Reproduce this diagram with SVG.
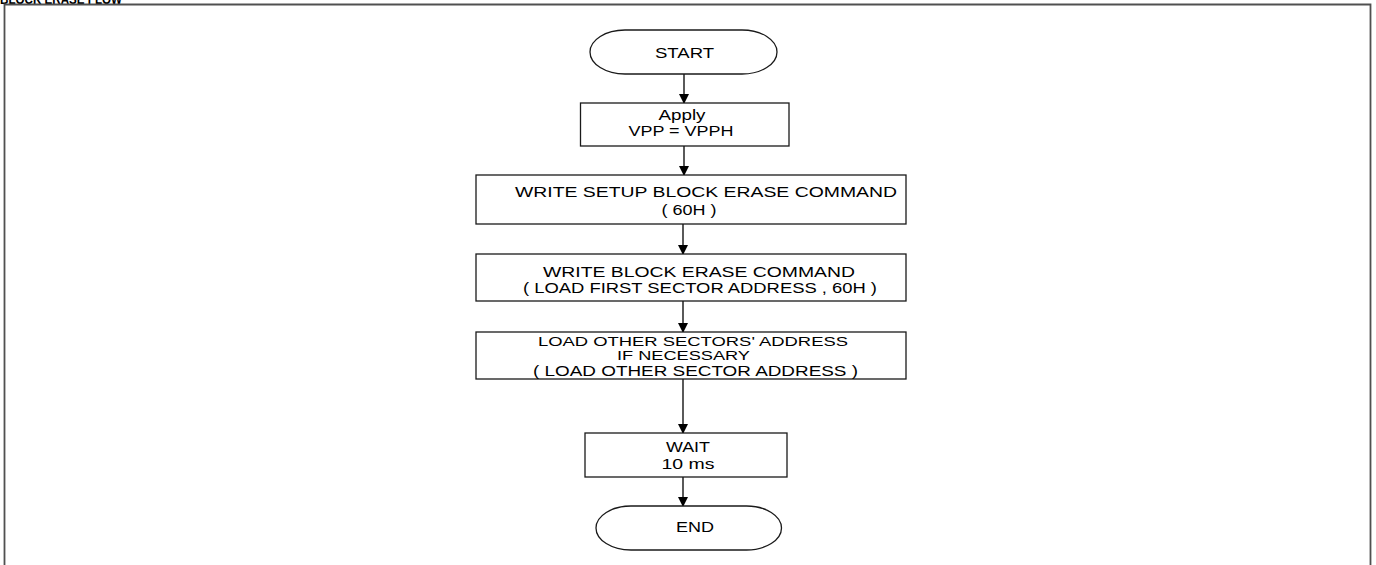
<svg xmlns="http://www.w3.org/2000/svg" width="1376" height="565" viewBox="0 0 1376 565">
  <style>
    .shape { fill: #ffffff; stroke: #1a1a1a; stroke-width: 1.3; }
    .lbl { font-family: "Liberation Sans", Arial, sans-serif; font-size: 14px; fill: #000; text-anchor: middle; }
    .sm { font-size: 13px; }
    .title { font-family: "Liberation Sans", Arial, sans-serif; font-size: 15px; font-weight: bold; fill: #000; }
    .conn { stroke: #000; stroke-width: 1.3; fill: none; }
    .frame { stroke: #505050; stroke-width: 1.8; fill: none; }
  </style>
  <defs>
    <marker id="arrow" markerUnits="userSpaceOnUse" markerWidth="10" markerHeight="12" refX="9" refY="5" orient="auto">
      <path d="M0,0 L10,5 L0,10 Z" fill="#000"/>
    </marker>
  </defs>
  <rect x="0" y="0" width="1376" height="565" fill="#ffffff"/>
  <text class="title" x="0" y="3.5" textLength="122" lengthAdjust="spacingAndGlyphs">BLOCK ERASE FLOW</text>
  <path class="frame" d="M4.5,570 V4.5 H1370.5 V570"/>

  <g id="connectors">
    <line class="conn" x1="684" y1="74" x2="684" y2="103" marker-end="url(#arrow)"/>
    <line class="conn" x1="684" y1="146" x2="684" y2="175" marker-end="url(#arrow)"/>
    <line class="conn" x1="683" y1="224" x2="683" y2="254" marker-end="url(#arrow)"/>
    <line class="conn" x1="683" y1="301" x2="683" y2="332" marker-end="url(#arrow)"/>
    <line class="conn" x1="683" y1="379" x2="683" y2="433" marker-end="url(#arrow)"/>
    <line class="conn" x1="683" y1="477" x2="683" y2="506" marker-end="url(#arrow)"/>
  </g>

  <g id="start">
    <rect class="shape" x="590" y="30" width="187" height="44" rx="35" ry="22"/>
    <text class="lbl" x="684.5" y="58" textLength="59" lengthAdjust="spacingAndGlyphs">START</text>
  </g>
  <g id="apply">
    <rect class="shape" x="580.5" y="103" width="208.5" height="43"/>
    <text class="lbl" x="682" y="120" textLength="47" lengthAdjust="spacingAndGlyphs">Apply</text>
    <text class="lbl" x="681" y="135.5" textLength="105" lengthAdjust="spacingAndGlyphs">VPP = VPPH</text>
  </g>
  <g id="setup">
    <rect class="shape" x="476" y="175" width="430" height="49"/>
    <text class="lbl" x="706" y="197" textLength="382" lengthAdjust="spacingAndGlyphs">WRITE  SETUP  BLOCK  ERASE  COMMAND</text>
    <text class="lbl" x="689" y="215" textLength="55" lengthAdjust="spacingAndGlyphs">( 60H )</text>
  </g>
  <g id="erase">
    <rect class="shape" x="476" y="254" width="430" height="47"/>
    <text class="lbl" x="699" y="277" textLength="312" lengthAdjust="spacingAndGlyphs">WRITE  BLOCK  ERASE  COMMAND</text>
    <text class="lbl" x="700" y="293" textLength="354" lengthAdjust="spacingAndGlyphs">( LOAD FIRST SECTOR ADDRESS , 60H )</text>
  </g>
  <g id="other">
    <rect class="shape" x="476" y="332" width="430" height="47"/>
    <text class="lbl sm" x="693" y="345.5" textLength="310" lengthAdjust="spacingAndGlyphs">LOAD OTHER SECTORS' ADDRESS</text>
    <text class="lbl sm" x="683.5" y="359.5" textLength="133" lengthAdjust="spacingAndGlyphs">IF NECESSARY</text>
    <text class="lbl" x="695.5" y="375.5" textLength="325" lengthAdjust="spacingAndGlyphs">( LOAD OTHER SECTOR ADDRESS )</text>
  </g>
  <g id="wait">
    <rect class="shape" x="585" y="433" width="202" height="44"/>
    <text class="lbl" x="688" y="451.5" textLength="44" lengthAdjust="spacingAndGlyphs">WAIT</text>
    <text class="lbl" x="688" y="469" textLength="53" lengthAdjust="spacingAndGlyphs">10  ms</text>
  </g>
  <g id="end">
    <rect class="shape" x="596" y="506" width="185.5" height="44" rx="35" ry="22"/>
    <text class="lbl" x="695" y="532" textLength="38" lengthAdjust="spacingAndGlyphs">END</text>
  </g>
</svg>
